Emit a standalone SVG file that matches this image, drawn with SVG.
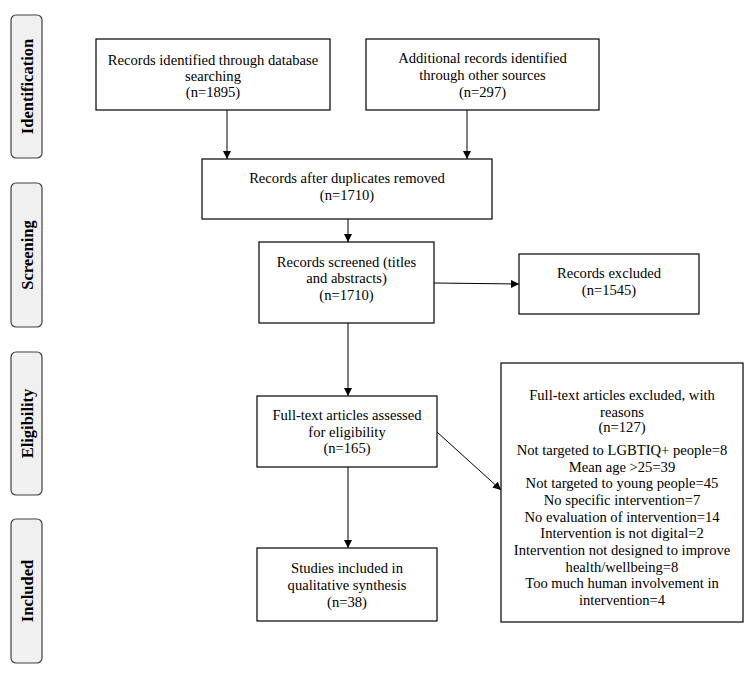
<svg xmlns="http://www.w3.org/2000/svg" width="752" height="674" viewBox="0 0 752 674">
<style>
.box{fill:#fff;stroke:#000;stroke-width:1.2}
.tab{fill:#f0f0f0;stroke:#404040;stroke-width:1.2}
.t{font-family:"Liberation Serif","Times New Roman",serif;font-size:14.6px;fill:#000;text-anchor:middle}
.tb{font-family:"Liberation Serif","Times New Roman",serif;font-size:16.5px;font-weight:bold;fill:#000;text-anchor:middle}
.c{stroke:#000;stroke-width:1;fill:none;marker-end:url(#ah)}
</style>
<defs>
<marker id="ah" viewBox="0 0 10 10" refX="10" refY="5" markerWidth="8" markerHeight="8" markerUnits="userSpaceOnUse" orient="auto">
<path d="M0,0 L10,5 L0,10 z" fill="#000"/>
</marker>
</defs>
<rect width="752" height="674" fill="#fff"/>
<g id="tab-identification"><rect class="tab" x="11" y="15" width="31" height="143" rx="5"/><text class="tb" transform="translate(32.5,86.5) rotate(-90)">Identification</text></g>
<g id="tab-screening"><rect class="tab" x="11" y="183" width="31" height="144" rx="5"/><text class="tb" transform="translate(32.5,255) rotate(-90)">Screening</text></g>
<g id="tab-eligibility"><rect class="tab" x="11" y="352" width="31" height="143" rx="5"/><text class="tb" transform="translate(32.5,423.5) rotate(-90)">Eligibility</text></g>
<g id="tab-included"><rect class="tab" x="11" y="519" width="31" height="144" rx="5"/><text class="tb" transform="translate(32.5,591) rotate(-90)">Included</text></g>
<g id="connectors">
<line class="c" x1="227" y1="110" x2="227" y2="159"/>
<line class="c" x1="467" y1="110" x2="467" y2="159"/>
<line class="c" x1="348" y1="219" x2="348" y2="242"/>
<line class="c" x1="434" y1="283" x2="519" y2="284"/>
<line class="c" x1="348" y1="323" x2="348" y2="396"/>
<line class="c" x1="437" y1="432" x2="501" y2="490"/>
<line class="c" x1="348" y1="467" x2="348" y2="548"/>
</g>
<g id="n1"><rect class="box" x="96" y="39" width="234" height="71"/>
<text class="t" x="213" y="65">Records identified through database</text>
<text class="t" x="213" y="81">searching</text>
<text class="t" x="213" y="97">(n=1895)</text></g>
<g id="n2"><rect class="box" x="366" y="39" width="233" height="71"/>
<text class="t" x="482.5" y="63">Additional records identified</text>
<text class="t" x="482.5" y="80">through other sources</text>
<text class="t" x="482.5" y="97">(n=297)</text></g>
<g id="n3"><rect class="box" x="202" y="159" width="290" height="60"/>
<text class="t" x="347" y="183">Records after duplicates removed</text>
<text class="t" x="347" y="200">(n=1710)</text></g>
<g id="n4"><rect class="box" x="259" y="242" width="175" height="81"/>
<text class="t" x="346.5" y="267">Records screened (titles</text>
<text class="t" x="346.5" y="283">and abstracts)</text>
<text class="t" x="346.5" y="300">(n=1710)</text></g>
<g id="n5"><rect class="box" x="519" y="254" width="180" height="60"/>
<text class="t" x="609" y="278">Records excluded</text>
<text class="t" x="609" y="295">(n=1545)</text></g>
<g id="n6"><rect class="box" x="257" y="396" width="180" height="71"/>
<text class="t" x="347" y="420">Full-text articles assessed</text>
<text class="t" x="347" y="437">for eligibility</text>
<text class="t" x="347" y="453">(n=165)</text></g>
<g id="n7"><rect class="box" x="501" y="363" width="242" height="259"/>
<text class="t" x="622" y="400">Full-text articles excluded, with</text>
<text class="t" x="622" y="417">reasons</text>
<text class="t" x="622" y="432">(n=127)</text>
<text class="t" x="622" y="455">Not targeted to LGBTIQ+ people=8</text>
<text class="t" x="622" y="472">Mean age &gt;25=39</text>
<text class="t" x="622" y="488">Not targeted to young people=45</text>
<text class="t" x="622" y="505">No specific intervention=7</text>
<text class="t" x="622" y="522">No evaluation of intervention=14</text>
<text class="t" x="622" y="538">Intervention is not digital=2</text>
<text class="t" x="622" y="555">Intervention not designed to improve</text>
<text class="t" x="622" y="572">health/wellbeing=8</text>
<text class="t" x="622" y="588">Too much human involvement in</text>
<text class="t" x="622" y="605">intervention=4</text></g>
<g id="n8"><rect class="box" x="257" y="548" width="180" height="73"/>
<text class="t" x="347" y="573">Studies included in</text>
<text class="t" x="347" y="590">qualitative synthesis</text>
<text class="t" x="347" y="607">(n=38)</text></g>
</svg>
